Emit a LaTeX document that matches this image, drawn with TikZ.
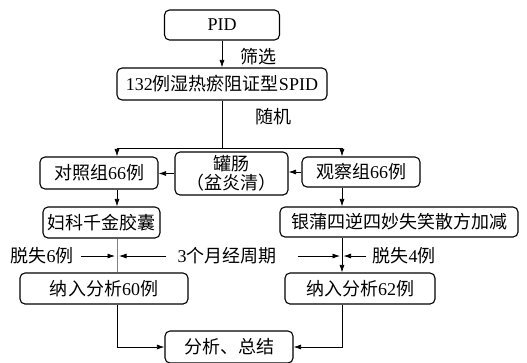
\documentclass[tikz,border=0pt]{standalone}
\usepackage{fontspec}
\setmainfont{Noto Sans CJK SC}
\newfontfamily\latinfont{Liberation Serif}
\newcommand\lat[1]{{\latinfont #1}}
\usetikzlibrary{arrows.meta}

\begin{document}
\begin{tikzpicture}[
  x=1bp,y=-1bp,
  font=\fontsize{18bp}{19bp}\selectfont,
  box/.style={rectangle,draw,line width=1.1bp,rounded corners=5bp,align=center,inner sep=1bp,minimum height=31bp},
  arr/.style={-{Latex[length=7.5bp,width=5bp]},line width=0.75bp},
  lbl/.style={inner sep=1bp}
]
\useasboundingbox (0,0) rectangle (527,362);
\node[box,minimum width=115bp,minimum height=30bp] (pid) at (222,25) {\lat{PID}};
\node[box,minimum width=210bp,minimum height=32bp] (spid) at (222,84) {\lat{132}例湿热瘀阻证型\lat{SPID}};
\node[box,minimum width=118bp,minimum height=32bp] (ctrl) at (99,173) {对照组\lat{66}例};
\node[box,minimum width=113bp,minimum height=43bp] (enema) at (231.5,173.5) {罐肠\\（盆炎清）};
\node[box,minimum width=118bp,minimum height=30bp] (obs) at (361,172) {观察组\lat{66}例};
\node[box,minimum width=117bp] (fuke) at (101.5,222.5) {妇科千金胶囊};
\node[box,minimum width=238bp,minimum height=30bp] (yinpu) at (399,222) {银蒲四逆四妙失笑散方加减};
\node[box,minimum width=168bp] (in60) at (104,288.5) {纳入分析\lat{60}例};
\node[box,minimum width=150bp] (in62) at (360,288.5) {纳入分析\lat{62}例};
\node[box,minimum width=128bp,minimum height=32bp] (sum) at (229,347) {分析、总结};
% labels
\node[lbl] (screen) at (258,57) {筛选};
\node[lbl] (rand) at (273,117) {随机};
\node[lbl] (loss6) at (42,256) {脱失\lat{6}例};
\node[lbl] (cycle) at (227,256) {\lat{3}个月经周期};
\node[lbl] (loss4) at (404,256) {脱失\lat{4}例};
% helper coordinates
\coordinate (xl) at (117,0);
\coordinate (xr) at (342,0);
\coordinate (sp) at (222,148);
% connectors
\draw[arr] (pid) -- (spid);
\draw[line width=0.75bp] (spid) -- (sp);
\draw[arr] (sp) -| (ctrl.north -| xl);
\draw[arr] (sp) -| (obs.north -| xr);
\draw[arr] (enema.west) -- (enema.west -| ctrl.east);
\draw[arr] (obs.west) -- (obs.west -| enema.east);
\draw[arr] (ctrl.south -| xl) -- (fuke.north -| xl);
\draw[arr] (obs.south -| xr) -- (yinpu.north -| xr);
\draw[line width=0.75bp,gray] (fuke.south -| xl) -- (in60.north -| xl);
\draw[arr] (yinpu.south -| xr) -- (in62.north -| xr);
\draw[arr] ([xshift=6bp]loss6.east) -- ([xshift=-2bp]loss6 -| xl);
\draw[arr] ([xshift=-10bp]cycle.west) -- ([xshift=2bp]cycle -| xl);
\draw[arr] ([xshift=20bp]cycle.east) -- ([xshift=-2bp]cycle -| xr);
\draw[arr] ([xshift=-5bp]loss4.west) -- ([xshift=1.5bp]loss4 -| xr);
\draw[arr] (in60.south -| xl) |- (sum.west);
\draw[arr] (in62.south -| xr) |- (sum.east);
\end{tikzpicture}
\end{document}
